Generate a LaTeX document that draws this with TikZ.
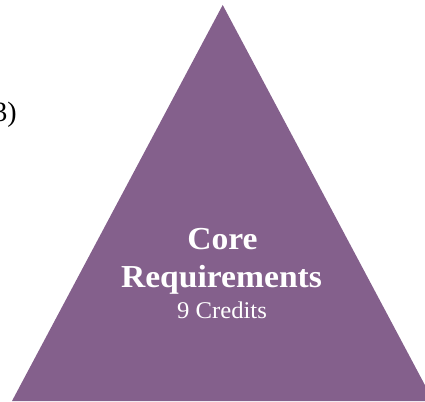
\documentclass[tikz,border=0pt]{standalone}
\usepackage{fontspec}
\setmainfont{Liberation Serif}
\newfontfamily\boldwide[FakeStretch=1.05]{Liberation Serif Bold}
\newfontfamily\regwide[FakeStretch=1.03]{Liberation Serif}
\definecolor{pyr}{RGB}{132,96,140}
\tikzset{
  bigbold/.style={text=white, font=\boldwide\fontsize{32}{36}\selectfont, anchor=base, inner sep=0pt},
  smallreg/.style={text=white, font=\regwide\fontsize{24}{28}\selectfont, anchor=base, inner sep=0pt},
  sidetext/.style={text=black, font=\fontsize{28}{32}\selectfont, anchor=base east, inner sep=0pt}
}
\begin{document}
\begin{tikzpicture}[x=1pt,y=1pt]
\useasboundingbox (0,0) rectangle (425,401);
\begin{scope}
\clip (0,0) rectangle (425,401);
\fill[pyr] (222.7,396) -- (433.4,0) -- (12,0) -- cycle;
\node[sidetext] (side) at (17,279) {3)};
\end{scope}
\node[bigbold] (core) at (222.5,151) {Core};
\node[bigbold] (req) at (221.5,113) {Requirements};
\node[smallreg] (cred) at (222,82) {9 Credits};
\end{tikzpicture}
\end{document}
